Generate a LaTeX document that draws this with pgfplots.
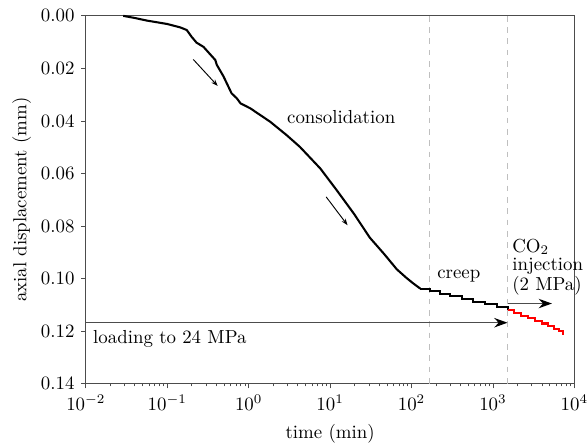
\documentclass[border=0pt]{standalone}
\usepackage{pgfplots}
\pgfplotsset{compat=1.18}
\usetikzlibrary{arrows.meta}
\begin{document}
\begin{tikzpicture}
\begin{axis}[
  scale only axis,
  width=259pt, height=195pt,
  xmode=log, xmin=0.01, xmax=10000,
  xtick={0.01,0.1,1,10,100,1000,10000},
  ymin=0, ymax=0.14, y dir=reverse,
  ytick={0,0.02,0.04,0.06,0.08,0.10,0.12,0.14},
  yticklabel style={/pgf/number format/fixed,/pgf/number format/fixed zerofill,/pgf/number format/precision=2},
  tick align=outside, tick pos=left,
  major tick length=2.5pt, minor tick length=1.5pt,
  axis line style={black!70},
  every tick/.style={black!70},
  xlabel={time (min)},
  ylabel={axial displacement (mm)},
  every axis x label/.style={at={(axis description cs:0.5,-0.1354)},anchor=center},
  every axis y label/.style={at={(axis description cs:-0.1313,0.5)},anchor=center,rotate=90},
  clip=false,
]
% dashed separators
\addplot[black!25, dashed, line width=0.5pt, forget plot] coordinates {(166,0) (166,0.14)};
\addplot[black!25, dashed, line width=0.5pt, forget plot] coordinates {(1510,0) (1510,0.14)};
% consolidation
\addplot[black, line width=1.1pt] coordinates {
(0.0288,0.0000) (0.0398,0.0008) (0.0562,0.0018) (0.1,0.0031) (0.1445,0.0044)
(0.1738,0.0054) (0.1995,0.0080) (0.229,0.0102) (0.2786,0.0118) (0.389,0.0168)
(0.407,0.0187) (0.490,0.0230) (0.617,0.0295) (0.716,0.0314) (0.794,0.0333)
(1.047,0.0352) (1.837,0.0403) (2.951,0.0455) (4.266,0.0499) (7.586,0.0581)
(12.02,0.0663) (19.50,0.0752) (30.9,0.0845) (45.7,0.0905) (66.1,0.0965)
(87.1,0.0998) (104.7,0.1018) (127.9,0.1038)
};
% creep
\addplot[black, line width=1.1pt, const plot] coordinates {
(127.9,0.1038) (169.8,0.1048) (223.9,0.1058) (298.5,0.1068) (416.9,0.1078)
(575.4,0.1088) (803.5,0.1098) (1122,0.1108) (1514,0.1118)
};
% CO2 injection
\addplot[red, line width=1.1pt, const plot] coordinates {
(1514,0.1121) (1820,0.1131) (2188,0.1141) (2692,0.1151) (3311,0.1161)
(3981,0.1171) (4786,0.1181) (5623,0.1191) (6457,0.1201) (7244,0.1211) (7300,0.1216)
};
% arrows
\draw[black!70, line width=0.8pt, -{Stealth[length=7pt,width=5pt,black]}] (axis cs:0.01,0.1168) -- (axis cs:1510,0.1168);
\draw[black!70, line width=0.8pt, -{Stealth[length=7pt,width=5pt,black]}] (axis cs:1510,0.1095) -- (axis cs:5300,0.1095);
\draw[black, line width=0.5pt, -{Stealth[length=3.5pt,width=2.5pt]}] (axis cs:0.209,0.0166) -- (axis cs:0.417,0.0267);
\draw[black, line width=0.5pt, -{Stealth[length=3.5pt,width=2.5pt]}] (axis cs:8.95,0.0689) -- (axis cs:16.4,0.0797);
% labels
\node[anchor=base west, inner sep=0pt] at (axis cs:2.94,0.041) {consolidation};
\node[anchor=base west, inner sep=0pt] at (axis cs:205,0.1) {creep};
\node[anchor=base west, inner sep=0pt] at (axis cs:1710,0.0899) {CO$_2$};
\node[anchor=base west, inner sep=0pt] at (axis cs:1710,0.0968) {injection};
\node[anchor=base west, inner sep=0pt] at (axis cs:1710,0.1044) {(2 MPa)};
\node[anchor=base west, inner sep=0pt] at (axis cs:0.0122,0.1248) {loading to 24 MPa};
\end{axis}
\pgfresetboundingbox
\path[use as bounding box] ([shift={(-45.5pt,-32.7pt)}]current axis.south west) rectangle ([shift={(6.7pt,8.4pt)}]current axis.north east);
\end{tikzpicture}
\end{document}
